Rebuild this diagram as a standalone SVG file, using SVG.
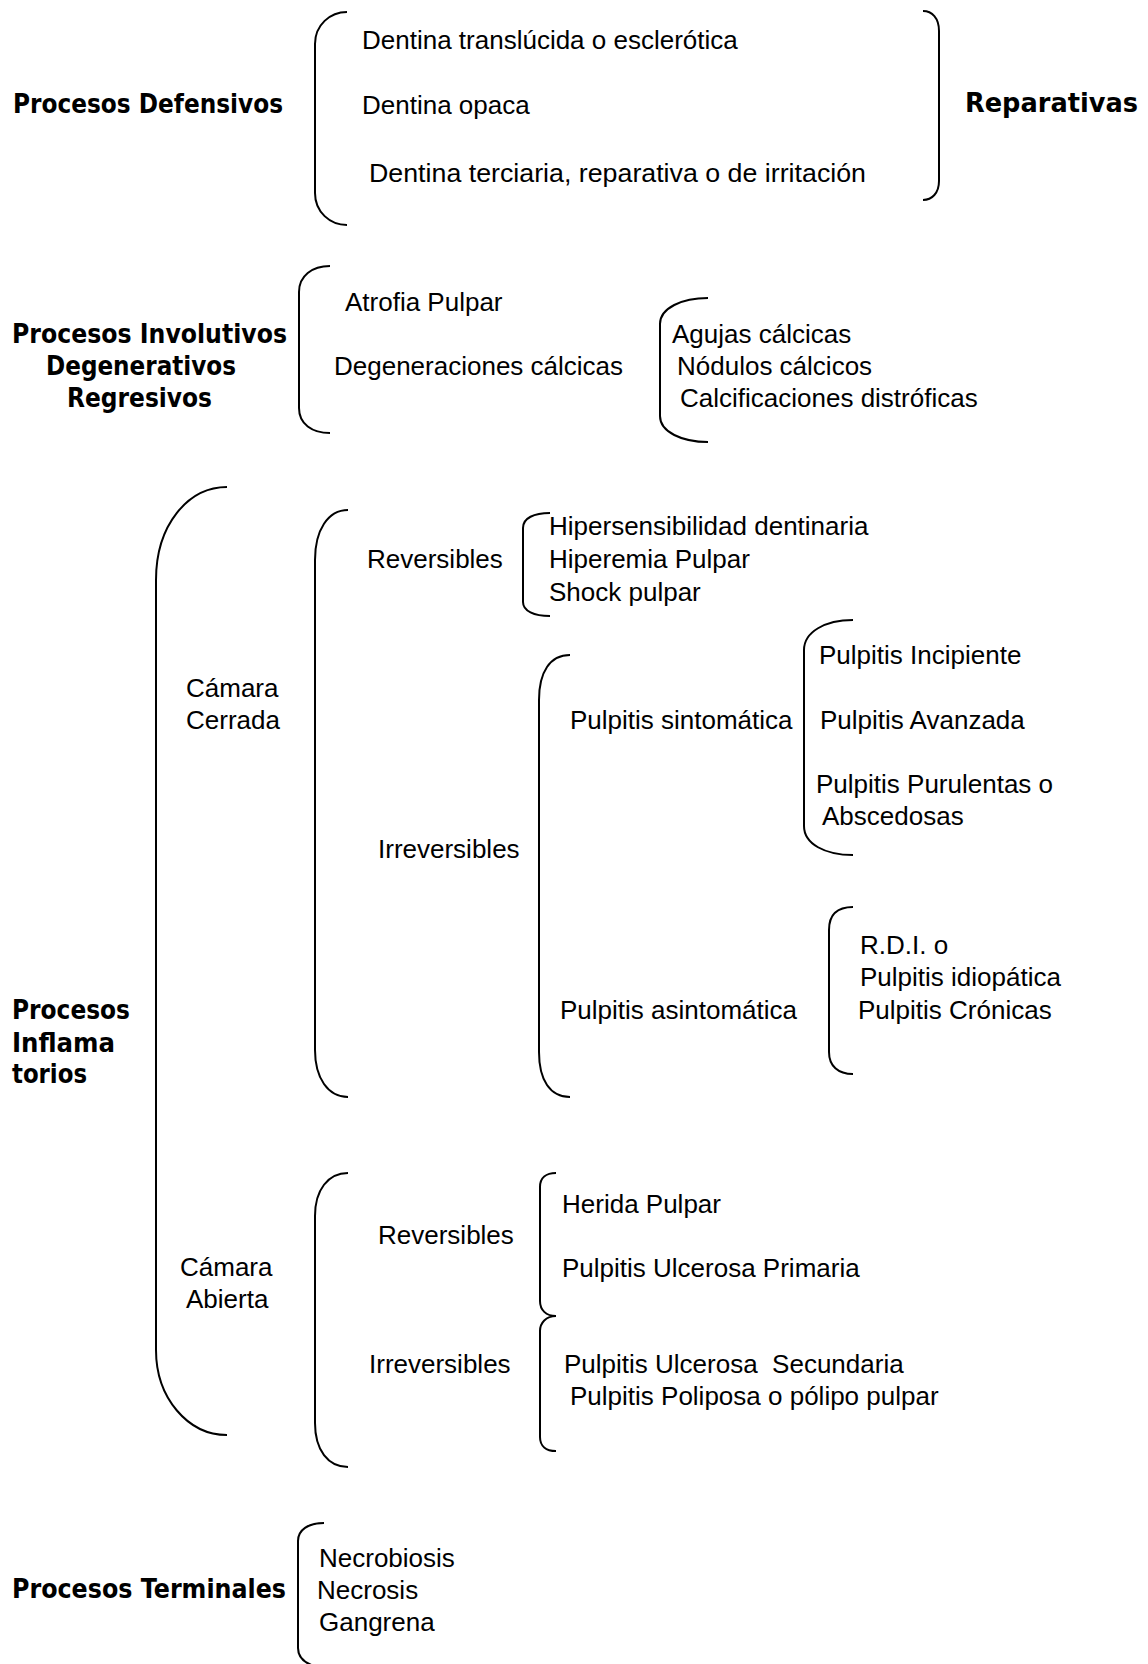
<svg xmlns="http://www.w3.org/2000/svg" width="1148" height="1664" viewBox="0 0 1148 1664">
<style>
.t{font-family:"Liberation Sans",Arial,sans-serif;font-size:26px;fill:#000;white-space:pre}
.b{font-family:"DejaVu Sans",Verdana,sans-serif;font-weight:bold;font-size:26px;fill:#000}
.br{fill:none;stroke:#000;stroke-width:2}
</style>
<rect x="0" y="0" width="1148" height="1664" fill="#fff"/>
<g id="connectors">
<path class="br" d="M347,12 C330,12 315,25 315,44 L315,193 C315,212 330,225 347,225"/>
<path class="br" d="M923,11 C932,11 939,18 939,31 L939,181 C939,193 932,200 923,200"/>
<path class="br" d="M330,266 C312,266 299,276 299,292 L299,408 C299,424 312,433 330,433"/>
<path class="br" d="M708,298 C682,298 660,308 660,324 L660,416 C660,432 682,442 708,442"/>
<path class="br" d="M227,487 C188,487 156,525 156,580 L156,1350 C156,1398 188,1435 227,1435"/>
<path class="br" d="M348,510 C328,510 315,530 315,560 L315,1050 C315,1078 328,1097 348,1097"/>
<path class="br" d="M550,513 C534,513 523,518 523,528 L523,602 C523,611 534,616 550,616"/>
<path class="br" d="M570,655 C550,655 539,672 539,700 L539,1052 C539,1080 550,1097 570,1097"/>
<path class="br" d="M853,620 C825,620 804,632 804,650 L804,826 C804,844 825,855 853,855"/>
<path class="br" d="M853,907 C838,907 829,914 829,930 L829,1052 C829,1066 838,1074 853,1074"/>
<path class="br" d="M348,1173 C328,1173 315,1190 315,1216 L315,1423 C315,1450 328,1467 348,1467"/>
<path class="br" d="M556,1173 C546,1173 540,1178 540,1187 L540,1301 C540,1310 546,1316 556,1316 C546,1316 540,1323 540,1331 L540,1437 C540,1446 546,1451 556,1451"/>
<path class="br" d="M324,1523 C308,1523 298,1530 298,1541 L298,1648 C298,1658 305,1664 318,1667"/>
</g>
<g id="n-defensivos"><text class="b" x="13" y="113" textLength="270" lengthAdjust="spacingAndGlyphs">Procesos Defensivos</text></g>
<g id="n-dentina-translucida"><text class="t" x="362" y="49">Dentina translúcida o esclerótica</text></g>
<g id="n-dentina-opaca"><text class="t" x="362" y="114">Dentina opaca</text></g>
<g id="n-dentina-terciaria"><text class="t" x="369" y="182" textLength="497" lengthAdjust="spacingAndGlyphs">Dentina terciaria, reparativa o de irritación</text></g>
<g id="n-reparativas"><text class="b" x="965" y="112" textLength="173" lengthAdjust="spacingAndGlyphs">Reparativas</text></g>
<g id="n-involutivos">
<text class="b" x="12" y="343" textLength="275" lengthAdjust="spacingAndGlyphs">Procesos Involutivos</text>
<text class="b" x="46" y="375" textLength="190" lengthAdjust="spacingAndGlyphs">Degenerativos</text>
<text class="b" x="67" y="407" textLength="145" lengthAdjust="spacingAndGlyphs">Regresivos</text>
</g>
<g id="n-atrofia"><text class="t" x="345" y="311">Atrofia Pulpar</text></g>
<g id="n-degeneraciones"><text class="t" x="334" y="375">Degeneraciones cálcicas</text></g>
<g id="n-calcicas">
<text class="t" x="672" y="343">Agujas cálcicas</text>
<text class="t" x="677" y="375">Nódulos cálcicos</text>
<text class="t" x="680" y="407">Calcificaciones distróficas</text>
</g>
<g id="n-inflamatorios">
<text class="b" x="12" y="1019" textLength="118" lengthAdjust="spacingAndGlyphs">Procesos</text>
<text class="b" x="12" y="1052" textLength="103" lengthAdjust="spacingAndGlyphs">Inflama</text>
<text class="b" x="12" y="1083" textLength="75" lengthAdjust="spacingAndGlyphs">torios</text>
</g>
<g id="n-camara-cerrada">
<text class="t" x="186" y="697">Cámara</text>
<text class="t" x="186" y="729">Cerrada</text>
</g>
<g id="n-cc-reversibles"><text class="t" x="367" y="568">Reversibles</text></g>
<g id="n-cc-rev-items">
<text class="t" x="549" y="535">Hipersensibilidad dentinaria</text>
<text class="t" x="549" y="568">Hiperemia Pulpar</text>
<text class="t" x="549" y="601">Shock pulpar</text>
</g>
<g id="n-cc-irreversibles"><text class="t" x="378" y="858">Irreversibles</text></g>
<g id="n-sintomatica"><text class="t" x="570" y="729">Pulpitis sintomática</text></g>
<g id="n-sint-items">
<text class="t" x="819" y="664">Pulpitis Incipiente</text>
<text class="t" x="820" y="729">Pulpitis Avanzada</text>
<text class="t" x="816" y="793">Pulpitis Purulentas o</text>
<text class="t" x="822" y="825">Abscedosas</text>
</g>
<g id="n-asintomatica"><text class="t" x="560" y="1019">Pulpitis asintomática</text></g>
<g id="n-asint-items">
<text class="t" x="860" y="954">R.D.I. o</text>
<text class="t" x="860" y="986">Pulpitis idiopática</text>
<text class="t" x="858" y="1019">Pulpitis Crónicas</text>
</g>
<g id="n-camara-abierta">
<text class="t" x="180" y="1276">Cámara</text>
<text class="t" x="186" y="1308">Abierta</text>
</g>
<g id="n-ca-reversibles"><text class="t" x="378" y="1244">Reversibles</text></g>
<g id="n-ca-irreversibles"><text class="t" x="369" y="1373">Irreversibles</text></g>
<g id="n-herida"><text class="t" x="562" y="1213">Herida Pulpar</text></g>
<g id="n-ulcerosa-primaria"><text class="t" x="562" y="1277">Pulpitis Ulcerosa Primaria</text></g>
<g id="n-ca-irrev-items">
<text class="t" x="564" y="1373" xml:space="preserve">Pulpitis Ulcerosa  Secundaria</text>
<text class="t" x="570" y="1405">Pulpitis Poliposa o pólipo pulpar</text>
</g>
<g id="n-terminales"><text class="b" x="12" y="1598" textLength="274" lengthAdjust="spacingAndGlyphs">Procesos Terminales</text></g>
<g id="n-term-items">
<text class="t" x="319" y="1567">Necrobiosis</text>
<text class="t" x="317" y="1599">Necrosis</text>
<text class="t" x="319" y="1631">Gangrena</text>
</g>
</svg>
